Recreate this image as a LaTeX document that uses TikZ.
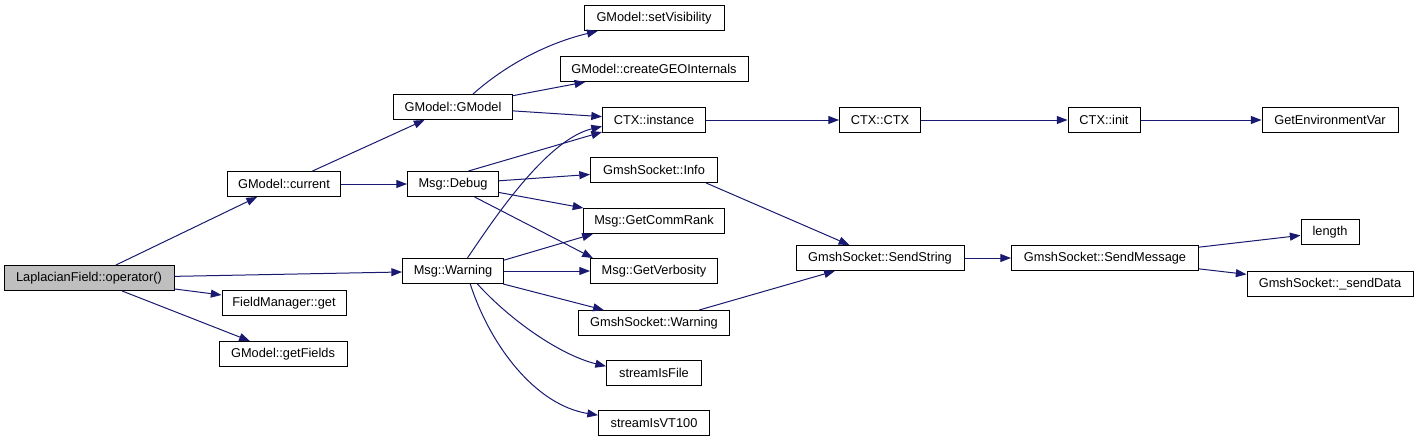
\documentclass[tikz,border=0pt]{standalone}
\usepackage{fontspec}
\setmainfont{Liberation Sans}
\usetikzlibrary{arrows.meta, positioning}
\definecolor{edgeblue}{HTML}{191970}
\definecolor{rootgray}{HTML}{BFBFBF}

\begin{document}
\begin{tikzpicture}[
    x=0.75pt, y=-0.75pt,
    func/.style={draw, rectangle, line width=0.75pt, fill=white, inner xsep=2pt, inner ysep=0pt,
        font=\fontsize{9.6}{11}\selectfont, minimum height=18.75pt},
    wd/.style={minimum width=#1*0.75pt},
    root/.style={func, fill=rootgray},
    call/.style={-{Triangle[length=8pt, width=6pt]}, line width=0.75pt, edgeblue}
]
\useasboundingbox (0,0) rectangle (1419,443);

% Nodes
\node[root, wd=170] (lap) at (89,278) {LaplacianField::operator()};

\node[func, wd=113] (cur) at (284,184) {GModel::current};
\node[func, wd=124] (fmg) at (284,303) {FieldManager::get};
\node[func, wd=128] (gfl) at (283,354) {GModel::getFields};

\node[func, wd=119] (gmm) at (453,107) {GModel::GModel};
\node[func, wd=91] (dbg) at (453,184) {Msg::Debug};
\node[func, wd=101] (wrn) at (453,271) {Msg::Warning};

\node[func, wd=140] (vis) at (654,18) {GModel::setVisibility};
\node[func, wd=188] (geo) at (654,69) {GModel::createGEOInternals};
\node[func, wd=103] (ins) at (654,120) {CTX::instance};
\node[func, wd=127] (inf) at (654,170) {GmshSocket::Info};
\node[func, wd=141] (crk) at (654,221) {Msg::GetCommRank};
\node[func, wd=127] (vrb) at (654,271) {Msg::GetVerbosity};
\node[func, wd=151] (swn) at (654,323) {GmshSocket::Warning};
\node[func, wd=95] (sif) at (654,373) {streamIsFile};
\node[func, wd=111] (svt) at (654,423) {streamIsVT100};

\node[func, wd=81] (ctx) at (880,120) {CTX::CTX};
\node[func, wd=72] (ini) at (1104,120) {CTX::init};
\node[func, wd=136] (env) at (1330,120) {GetEnvironmentVar};

\node[func, wd=168] (sst) at (880,258) {GmshSocket::SendString};
\node[func, wd=187] (smg) at (1105,258) {GmshSocket::SendMessage};
\node[func, wd=58] (len) at (1330,232) {length};
\node[func, wd=166] (sdt) at (1330,284) {GmshSocket::\_sendData};

% Connections
\draw[call] (lap) -- (cur);
\draw[call] (lap) -- (wrn);
\draw[call] (lap) -- (fmg);
\draw[call] (lap) -- (gfl);

\draw[call] (cur) -- (gmm);
\draw[call] (cur) -- (dbg);

\draw[call] (gmm.33) .. controls (500,70) and (540,45) .. (vis.193);
\draw[call] (gmm) -- (geo);
\draw[call] (gmm) -- (ins);

\draw[call] (dbg.40) -- (ins.193);
\draw[call] (dbg) -- (inf);
\draw[call] (dbg) -- (crk);
\draw[call] (dbg.-31) -- (vrb.168);

\draw[call] (wrn.42) .. controls (490,225) and (545,140) .. (ins.187);
\draw[call] (wrn.12) -- (crk.192);
\draw[call] (wrn) -- (vrb);
\draw[call] (wrn) -- (swn);
\draw[call] (wrn.-28) .. controls (510,320) and (560,355) .. (sif.172);
\draw[call] (wrn.-37) .. controls (490,345) and (535,405) .. (svt.172);

\draw[call] (ins) -- (ctx);
\draw[call] (ctx) -- (ini);
\draw[call] (ini) -- (env);

\draw[call] (inf.-14) -- (sst.157);
\draw[call] (swn) -- (sst);
\draw[call] (sst) -- (smg);
\draw[call] (smg) -- (len);
\draw[call] (smg) -- (sdt);

\end{tikzpicture}
\end{document}
